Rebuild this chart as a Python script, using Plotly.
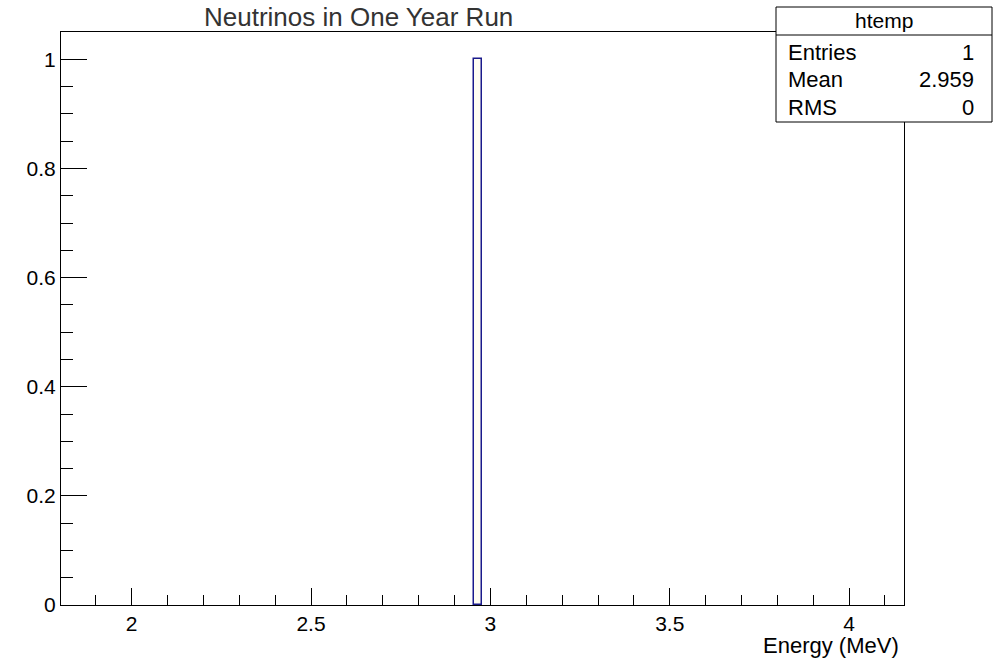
import plotly.graph_objects as go

# ---- data ----
bin_left = [2.9535]
bin_right = [2.9770]
counts = [1]
x_tickvals = [2, 2.5, 3, 3.5, 4]
x_ticktext = ["2", "2.5", "3", "3.5", "4"]
y_tickvals = [0, 0.2, 0.4, 0.6, 0.8, 1]
y_ticktext = ["0", "0.2", "0.4", "0.6", "0.8", "1"]
stats_labels = ["Entries", "Mean", "RMS"]
stats_values = ["1", "2.959", "0"]
hist_name = "htemp"
title_text = "Neutrinos in One Year Run"
x_title = "Energy (MeV)"

W, H = 993, 660
L, R, T, B = 61, 904, 32, 605
FONT = "Liberation Sans, Arial, sans-serif"

def px(x):
    return (x - L) / (R - L)

def py(y):
    return (B - y) / (B - T)

centers = [(a + b) / 2 for a, b in zip(bin_left, bin_right)]
widths = [b - a for a, b in zip(bin_left, bin_right)]

fig = go.Figure()
fig.add_trace(go.Bar(
    x=centers, y=counts, width=widths,
    marker=dict(color="#fffdf2", line=dict(color="#1a1a8c", width=1.5)),
    showlegend=False, hoverinfo="skip",
))

axis_common = dict(
    showgrid=False, zeroline=False, showline=True, linecolor="black",
    linewidth=1, mirror=True, ticks="inside", tickcolor="black",
    tickwidth=1, tickfont=dict(family=FONT, size=21, color="black"),
)

fig.update_xaxes(
    range=[1.803, 4.153], tickmode="array", tickvals=x_tickvals,
    ticktext=x_ticktext, ticklen=17,
    minor=dict(ticks="inside", dtick=0.1, tick0=0, ticklen=10,
               tickcolor="black", tickwidth=1, showgrid=False),
    **axis_common,
)
fig.update_yaxes(
    range=[0, 1.05], tickmode="array", tickvals=y_tickvals,
    ticktext=y_ticktext, ticklen=26,
    minor=dict(ticks="inside", dtick=0.05, tick0=0, ticklen=12,
               tickcolor="black", tickwidth=1, showgrid=False),
    **axis_common,
)

shapes = []
# stats box
bx0, bx1, by0, by1, bsep = 776, 992, 7, 122, 35
shapes.append(dict(type="rect", xref="paper", yref="paper",
                   x0=px(bx0), x1=px(bx1), y0=py(by1), y1=py(by0),
                   fillcolor="white", line=dict(color="black", width=1),
                   layer="above"))
shapes.append(dict(type="line", xref="paper", yref="paper",
                   x0=px(bx0), x1=px(bx1), y0=py(bsep), y1=py(bsep),
                   line=dict(color="black", width=1), layer="above"))

annotations = []
annotations.append(dict(text=hist_name, xref="paper", yref="paper",
                        x=px((bx0 + bx1) / 2), y=py(21), xanchor="center",
                        yanchor="middle", showarrow=False,
                        font=dict(family=FONT, size=21, color="black")))
row_y = [52, 80, 108]
for lab, val, yy in zip(stats_labels, stats_values, row_y):
    annotations.append(dict(text=lab, xref="paper", yref="paper",
                            x=px(786), y=py(yy), xanchor="left",
                            yanchor="middle", showarrow=False,
                            font=dict(family=FONT, size=22, color="black")))
    annotations.append(dict(text=val, xref="paper", yref="paper",
                            x=px(976), y=py(yy), xanchor="right",
                            yanchor="middle", showarrow=False,
                            font=dict(family=FONT, size=22, color="black")))

annotations.append(dict(text=x_title, xref="paper", yref="paper",
                        x=px(901), y=py(645), xanchor="right",
                        yanchor="middle", showarrow=False,
                        font=dict(family=FONT, size=22, color="black")))
annotations.append(dict(text=title_text, xref="paper", yref="paper",
                        x=px(358), y=py(0), xanchor="center",
                        yanchor="top", showarrow=False,
                        font=dict(family=FONT, size=26, color="#333333")))

fig.update_layout(
    width=W, height=H,
    margin=dict(l=L, r=W - R, t=T, b=H - B, pad=0),
    plot_bgcolor="white", paper_bgcolor="white",
    shapes=shapes, annotations=annotations, bargap=0,
)

fig.write_html("out.html", config={"displayModeBar": False},
               post_script="document.body.style.margin='0';")
